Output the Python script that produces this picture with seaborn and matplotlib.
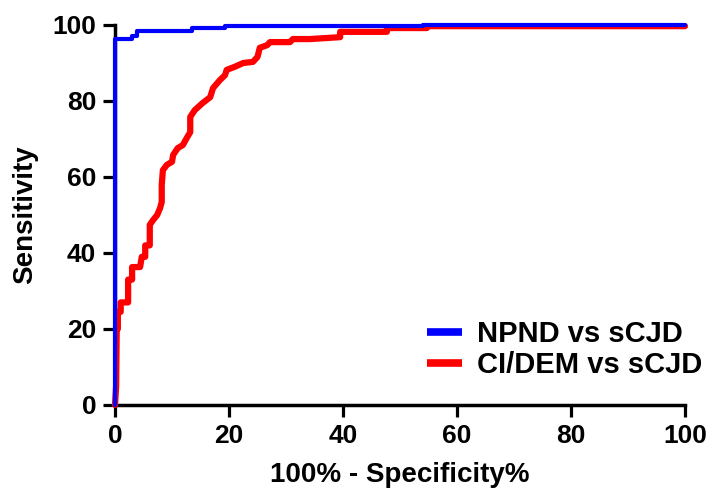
import matplotlib
matplotlib.use("Agg")
import matplotlib.pyplot as plt
import seaborn as sns
import pandas as pd

# ROC curve vertices (100% - Specificity%, Sensitivity)
npnd_x = [0, 0, 3.0, 3.0, 3.9, 3.9, 13.5, 13.5, 19.3, 19.3, 54.0, 54.0, 100]
npnd_y = [0, 96.3, 96.3, 97.2, 97.2, 98.5, 98.5, 99.3, 99.3, 99.8, 99.8, 100, 100]

cidem_x = [0, 0.2, 0.3, 0.5, 0.5, 1.0, 1.0, 2.3, 2.3, 3.0, 3.0, 4.4, 4.7, 5.3, 5.3,
           6.1, 6.1, 6.7, 7.4, 7.9, 8.2, 8.2, 8.4, 9.1, 10.0, 10.2, 11.0, 11.9, 12.6,
           13.2, 13.2, 14.0, 15.4, 16.7, 17.2, 18.4, 19.3, 19.6, 21.0, 22.5, 24.2,
           25.0, 25.4, 26.7, 27.2, 30.7, 31.2, 34.2, 39.5, 39.5, 47.7, 47.7, 54.7,
           54.7, 100]
cidem_y = [0, 5, 20, 20, 24.5, 24.5, 27, 27, 33, 33, 36.3, 36.3, 39, 39, 42,
           42, 47.4, 48.7, 50, 51.8, 53.4, 57.9, 61.8, 63.2, 64, 65.8, 67.6, 68.4, 70.3,
           71.8, 75.8, 77.6, 79.5, 81, 83.4, 85.5, 86.8, 88.2, 89, 90, 90.3,
           91.6, 94, 94.7, 95.5, 95.5, 96.3, 96.3, 96.8, 98.2, 98.2, 99.2, 99.2,
           99.7, 99.7]

series_names = ["NPND vs sCJD", "CI/DEM vs sCJD"]
x_ticks = [0, 20, 40, 60, 80, 100]
y_ticks = [0, 20, 40, 60, 80, 100]

df = pd.concat([
    pd.DataFrame({"x": npnd_x, "y": npnd_y, "series": series_names[0]}),
    pd.DataFrame({"x": cidem_x, "y": cidem_y, "series": series_names[1]}),
])

sns.set_style("ticks")
plt.rcParams["font.family"] = ["Liberation Sans", "DejaVu Sans"]
plt.rcParams["font.weight"] = "bold"
plt.rcParams["text.color"] = "black"
plt.rcParams["axes.labelcolor"] = "black"
plt.rcParams["xtick.color"] = "black"
plt.rcParams["ytick.color"] = "black"

fig = plt.figure(figsize=(7.12, 4.97), dpi=100)
ax = fig.add_axes([115 / 712, 1 - 405 / 497, 570 / 712, 380 / 497])

palette = {series_names[0]: "#0000FF", series_names[1]: "#FF0000"}
sub_red = df[df.series == series_names[1]]
sub_blue = df[df.series == series_names[0]]
sns.lineplot(data=sub_red, x="x", y="y", sort=False, estimator=None, color=palette[series_names[1]],
             linewidth=4.5, ax=ax, label=series_names[1], clip_on=False, zorder=3)
sns.lineplot(data=sub_blue, x="x", y="y", sort=False, estimator=None, color=palette[series_names[0]],
             linewidth=3.0, ax=ax, label=series_names[0], clip_on=False, zorder=4)

ax.set_xlim(0, 100)
ax.set_ylim(0, 100)
ax.set_xticks(x_ticks)
ax.set_yticks(y_ticks)
ax.set_xticklabels([str(t) for t in x_ticks], fontsize=19, fontweight="bold", color="black")
ax.set_yticklabels([str(t) for t in y_ticks], fontsize=19, fontweight="bold", color="black")
ax.tick_params(axis="both", direction="out", length=8.5, width=2.3, pad=5, color="black")
for s in ["top", "right"]:
    ax.spines[s].set_visible(False)
for s in ["left", "bottom"]:
    ax.spines[s].set_linewidth(2.5)
    ax.spines[s].set_color("black")

ax.set_xlabel("100% - Specificity%", fontsize=20, fontweight="bold", labelpad=10, color="black")
ax.set_ylabel("Sensitivity", fontsize=20, fontweight="bold", labelpad=10, color="black")

handles, labels = ax.get_legend_handles_labels()
order = [labels.index(n) for n in series_names]
leg = ax.legend([handles[i] for i in order], [labels[i] for i in order],
                loc="lower right", bbox_to_anchor=(1.077, 0.0), frameon=False,
                prop={"size": 21, "weight": "bold"}, handlelength=1.2, handletextpad=0.52,
                labelspacing=0.08, borderaxespad=0.5)
for line in leg.get_lines():
    line.set_linewidth(5.5)
    line.set_solid_capstyle("butt")
for t in leg.get_texts():
    t.set_color("black")

fig.savefig("out.png", dpi=100)
